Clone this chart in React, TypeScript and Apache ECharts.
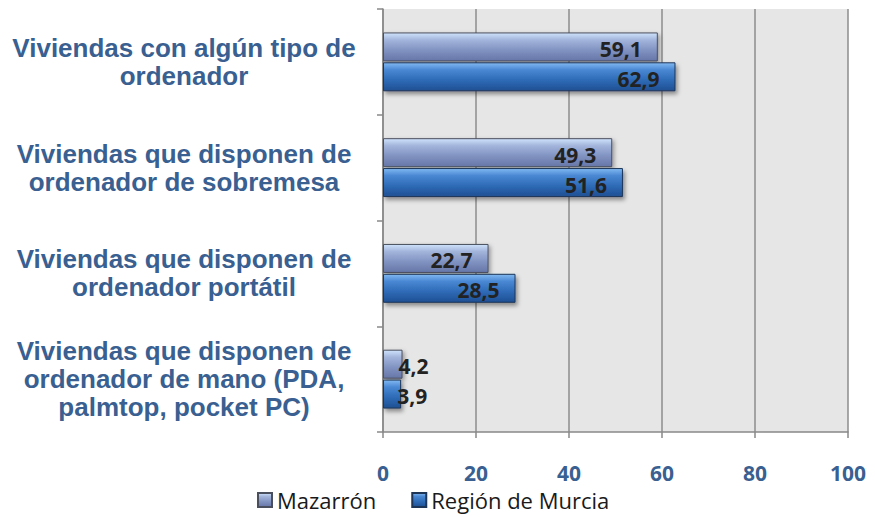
import React, { useEffect, useRef } from "react";
import * as echarts from "echarts";

const categories = [
  "Viviendas con algún tipo de\nordenador",
  "Viviendas que disponen de\nordenador de sobremesa",
  "Viviendas que disponen de\nordenador portátil",
  "Viviendas que disponen de\nordenador de mano (PDA,\npalmtop, pocket PC)",
];
const seriesNames = ["Mazarrón", "Región de Murcia"];
const mazarron = [59.1, 49.3, 22.7, 4.2];
const murcia = [62.9, 51.6, 28.5, 3.9];
const xTicks = [0, 20, 40, 60, 80, 100];

const fmt = (v: number) => v.toFixed(1).replace(".", ",");

const gradMaz = new echarts.graphic.LinearGradient(0, 0, 0, 1, [
  { offset: 0, color: "#cfe3fc" },
  { offset: 0.25, color: "#a3b5db" },
  { offset: 0.6, color: "#8294c2" },
  { offset: 1, color: "#6676a8" },
]);
const gradMur = new echarts.graphic.LinearGradient(0, 0, 0, 1, [
  { offset: 0, color: "#82b9f2" },
  { offset: 0.25, color: "#4a88d4" },
  { offset: 0.6, color: "#2f6cb8" },
  { offset: 1, color: "#1f4f92" },
]);

const mkData = (arr: number[]) =>
  arr.map((v) =>
    v < 10
      ? { value: v, label: { position: "right", distance: -4 } }
      : { value: v }
  );

const labelStyle = {
  show: true,
  position: "insideRight",
  distance: 16,
  offset: [0, 2],
  formatter: (p: any) => fmt(p.value),
  fontFamily: "Open Sans",
  fontWeight: "bold",
  fontSize: 21,
  color: "#222222",
};

export default function App() {
  const ref = useRef<HTMLDivElement>(null);
  useEffect(() => {
    if (!ref.current) return;
    const chart = echarts.init(ref.current, undefined, { renderer: "svg" });
    chart.setOption({
      animation: false,
      backgroundColor: "#ffffff",
      grid: { left: 383, right: 27, top: 9, bottom: 85, containLabel: false, show: true, backgroundColor: "#e6e6e6", borderWidth: 0 },
      legend: {
        data: seriesNames,
        left: 257,
        top: 489,
        padding: 0,
        itemWidth: 14,
        itemHeight: 14,
        itemGap: 35,
        textStyle: { fontFamily: "Open Sans", fontSize: 22, color: "#1a1a1a", lineHeight: 22 },
        icon: "rect",
      },
      xAxis: {
        type: "value",
        min: 0,
        max: 100,
        interval: 20,
        axisLine: { show: true, lineStyle: { color: "#888888", width: 1.5 } },
        axisTick: { show: true, length: 6, lineStyle: { color: "#888888", width: 1.5 } },
        splitLine: { show: true, lineStyle: { color: "#8c8c8c", width: 1.5 } },
        axisLabel: {
          margin: 30,
          fontFamily: "Open Sans",
          fontWeight: "bold",
          fontSize: 21,
          color: "#3a5f91",
          formatter: (v: number) => (xTicks.includes(v) ? String(v) : ""),
        },
      },
      yAxis: {
        type: "category",
        inverse: true,
        data: categories,
        axisLine: { show: true, lineStyle: { color: "#888888", width: 1.5 } },
        axisTick: { show: true, length: 6, lineStyle: { color: "#888888", width: 1.5 } },
        axisLabel: {
          margin: 199,
          align: "center",
          fontFamily: "Liberation Sans",
          fontWeight: "bold",
          fontSize: 26,
          lineHeight: 28,
          color: "#3a5f91",
        },
      },
      series: [
        {
          name: seriesNames[0],
          type: "bar",
          data: mkData(mazarron),
          barWidth: 29,
          barGap: "3%",
          itemStyle: {
            color: gradMaz,
            borderColor: "#4a4f5e",
            borderWidth: 1,
            shadowBlur: 4,
            shadowOffsetX: 2,
            shadowOffsetY: 2,
            shadowColor: "rgba(0,0,0,0.35)",
          },
          label: labelStyle,
        },
        {
          name: seriesNames[1],
          type: "bar",
          data: mkData(murcia),
          barWidth: 29,
          itemStyle: {
            color: gradMur,
            borderColor: "#1d3557",
            borderWidth: 1,
            shadowBlur: 4,
            shadowOffsetX: 2,
            shadowOffsetY: 3,
            shadowColor: "rgba(0,0,0,0.4)",
          },
          label: labelStyle,
        },
      ],
    });
    return () => chart.dispose();
  }, []);
  return (
    <div
      ref={ref}
      style={{ position: "fixed", left: 0, top: 0, width: 875, height: 517 }}
    />
  );
}
